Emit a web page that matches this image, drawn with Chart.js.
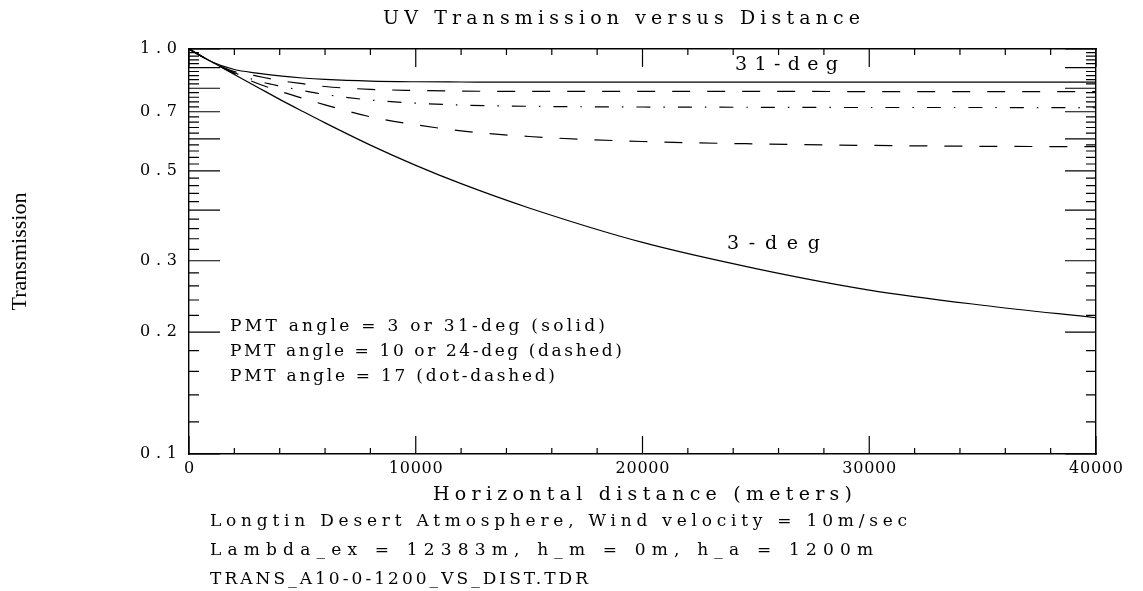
<!DOCTYPE html>
<html>
<head>
<meta charset="utf-8">
<script src="https://cdn.jsdelivr.net/npm/chart.js@4/dist/chart.umd.min.js"></script>
<style>
  html, body { margin: 0; padding: 0; background: #ffffff; }
  canvas { display: block; }
</style>
</head>
<body>
<canvas id="chart" width="1143" height="591"></canvas>
<script>
// ---------------- data ----------------
const distances = [0, 1000, 2000, 3000, 4000, 5000, 6000, 8000, 10000, 12000, 15000, 20000, 25000, 30000, 35000, 40000];
const trans3deg  = [1.000, 0.930, 0.865, 0.806, 0.751, 0.702, 0.657, 0.579, 0.516, 0.465, 0.405, 0.333, 0.287, 0.254, 0.233, 0.217];
const trans10deg = [1.000, 0.929, 0.869, 0.823, 0.787, 0.756, 0.728, 0.680, 0.650, 0.628, 0.608, 0.591, 0.583, 0.578, 0.575, 0.574];
const trans17deg = [1.000, 0.929, 0.874, 0.835, 0.810, 0.790, 0.772, 0.748, 0.735, 0.727, 0.722, 0.719, 0.718, 0.717, 0.717, 0.716];
const trans24deg = [1.000, 0.930, 0.879, 0.857, 0.836, 0.821, 0.808, 0.795, 0.790, 0.787, 0.786, 0.786, 0.786, 0.785, 0.785, 0.785];
const trans31deg = [1.000, 0.930, 0.890, 0.872, 0.858, 0.848, 0.841, 0.833, 0.830, 0.829, 0.828, 0.828, 0.828, 0.828, 0.828, 0.828];

const xTickValues = [0, 10000, 20000, 30000, 40000];
const yTickValues = [0.1, 0.2, 0.3, 0.5, 0.7, 1.0];
const yTickLabels = ['0.1', '0.2', '0.3', '0.5', '0.7', '1.0'];

const titleText = 'UV Transmission versus Distance';
const xTitleText = 'Horizontal distance (meters)';
const yTitleText = 'Transmission';
const legendLines = ['PMT angle = 3 or 31-deg (solid)', 'PMT angle = 10 or 24-deg (dashed)', 'PMT angle = 17 (dot-dashed)'];
const footerLines = ['Longtin Desert Atmosphere, Wind velocity = 10m/sec', 'Lambda_ex = 12383m, h_m = 0m, h_a = 1200m', 'TRANS_A10-0-1200_VS_DIST.TDR'];
const curveLabels = ['31-deg', '3-deg'];

// ---------------- styling / layout ----------------
const INK = '#000000';
const FONT = 'DejaVu Serif';          // plot lettering
const FONT_Y = 'Liberation Serif';    // rotated axis title
const TEXT_SIZE = 17;
const LABEL_SIZE = 19;
const TITLE_SIZE = 19;
const TICK_SIZE = 16;
const TITLE_CENTER_X = 621.5;
const TITLE_WIDTH = 477;
const XTITLE_WIDTH = 419;
const X_TICK_WIDTH = 54;   // visible width of "10000"
const Y_TICK_WIDTH = 37;   // visible width of "0.7"
const SOLID = [];
const DASHED = [18, 17];
const DOTDASH = [14, 13, 1.5, 13];

// annotation placement (pixels): left x, middle y, visible width, font size
const notePlaces = [
  { text: curveLabels[0], x: 735, y: 65, w: 103, size: LABEL_SIZE },
  { text: curveLabels[1], x: 727, y: 244, w: 93, size: LABEL_SIZE },
  { text: legendLines[0], x: 230, y: 327, w: 375, size: TEXT_SIZE },
  { text: legendLines[1], x: 230, y: 352, w: 392, size: TEXT_SIZE },
  { text: legendLines[2], x: 230, y: 377, w: 325, size: TEXT_SIZE },
  { text: footerLines[0], x: 210, y: 522, w: 697, size: TEXT_SIZE },
  { text: footerLines[1], x: 210, y: 551, w: 663, size: TEXT_SIZE },
  { text: footerLines[2], x: 210, y: 580, w: 378, size: TEXT_SIZE }
];

Chart.defaults.font.family = FONT;
Chart.defaults.color = INK;

const measurer = document.createElement('canvas').getContext('2d');
function fitSpacing(text, size, width) {
  measurer.font = size + 'px "' + FONT + '"';
  const w = measurer.measureText(text).width;
  return Math.max(0, (width - w) / Math.max(1, text.length - 1));
}

function toPoints(values) {
  return distances.map((d, i) => ({ x: d, y: values[i] }));
}

function wrapDraw(obj, name, spacing, dxFn) {
  if (!obj || obj['_wrapped_' + name]) return;
  const orig = obj[name];
  obj[name] = function () {
    const ctx = this.ctx;
    ctx.save();
    if ('letterSpacing' in ctx) ctx.letterSpacing = spacing + 'px';
    ctx.translate(dxFn ? dxFn(this) : 0, 0);
    const r = orig.apply(this, arguments);
    ctx.restore();
    return r;
  };
  obj['_wrapped_' + name] = true;
}

const spacingPlugin = {
  id: 'spacing',
  beforeDraw(chart) {
    const tls = fitSpacing(titleText, TITLE_SIZE, TITLE_WIDTH);
    const xls = fitSpacing(xTitleText, TITLE_SIZE, XTITLE_WIDTH);
    const xts = fitSpacing('10000', TICK_SIZE, X_TICK_WIDTH);
    const yts = fitSpacing('0.7', TICK_SIZE, Y_TICK_WIDTH);
    wrapDraw(chart.titleBlock, 'draw', tls, b => TITLE_CENTER_X - (b.left + b.right) / 2 + tls / 2);
    wrapDraw(chart.scales.x, 'drawTitle', xls, () => xls / 2);
    wrapDraw(chart.scales.x, 'drawLabels', xts, () => xts / 2);
    wrapDraw(chart.scales.y, 'drawLabels', yts, () => yts);
  }
};

const innerTicksPlugin = {
  id: 'innerTicks',
  afterDatasetsDraw(chart) {
    const { ctx, chartArea: a } = chart;
    const xs = chart.scales.x, ys = chart.scales.y;
    ctx.save();
    ctx.strokeStyle = INK;
    ctx.lineWidth = 1.2;
    ctx.beginPath();
    for (let k = 10; k <= 100; k += 2) {
      const py = ys.getPixelForValue(k / 100);
      const len = (k % 10 === 0) ? 31 : 10;
      ctx.moveTo(a.left, py); ctx.lineTo(a.left + len, py);
      ctx.moveTo(a.right, py); ctx.lineTo(a.right - len, py);
    }
    for (let d = 0; d <= 40000; d += 2000) {
      const px = xs.getPixelForValue(d);
      const len = (d % 10000 === 0) ? 18 : 6;
      ctx.moveTo(px, a.bottom); ctx.lineTo(px, a.bottom - len);
      ctx.moveTo(px, a.top); ctx.lineTo(px, a.top + len);
    }
    ctx.stroke();
    ctx.restore();
  }
};

const notesPlugin = {
  id: 'notes',
  afterDraw(chart) {
    const ctx = chart.ctx;
    ctx.save();
    ctx.fillStyle = INK;
    ctx.textAlign = 'left';
    ctx.textBaseline = 'middle';
    notePlaces.forEach(n => {
      ctx.font = n.size + 'px "' + FONT + '"';
      if ('letterSpacing' in ctx) ctx.letterSpacing = fitSpacing(n.text, n.size, n.w) + 'px';
      ctx.fillText(n.text, n.x, n.y);
    });
    ctx.restore();
  }
};

const lineDefaults = { borderColor: INK, borderWidth: 1.2, pointRadius: 0, fill: false, cubicInterpolationMode: 'monotone', xAxisID: 'x', yAxisID: 'y' };

new Chart(document.getElementById('chart'), {
  type: 'line',
  data: {
    datasets: [
      Object.assign({ label: '3-deg', data: toPoints(trans3deg), borderDash: SOLID }, lineDefaults),
      Object.assign({ label: '10-deg', data: toPoints(trans10deg), borderDash: DASHED }, lineDefaults),
      Object.assign({ label: '17-deg', data: toPoints(trans17deg), borderDash: DOTDASH }, lineDefaults),
      Object.assign({ label: '24-deg', data: toPoints(trans24deg), borderDash: DASHED }, lineDefaults),
      Object.assign({ label: '31-deg', data: toPoints(trans31deg), borderDash: SOLID }, lineDefaults)
    ]
  },
  options: {
    responsive: false,
    animation: false,
    devicePixelRatio: 1,
    layout: { padding: { left: 0, right: 47, top: 0, bottom: 84.2 } },
    plugins: {
      legend: { display: false },
      tooltip: { enabled: false },
      title: {
        display: true, text: titleText, color: INK,
        font: { family: FONT, size: TITLE_SIZE, weight: 'normal' },
        padding: { top: 7.6, bottom: 18.6 }
      }
    },
    scales: {
      x: {
        type: 'linear', position: 'bottom', min: 0, max: 40000,
        afterBuildTicks: s => { s.ticks = xTickValues.map(v => ({ value: v })); },
        afterFit: s => { s.height = 52.8; },
        ticks: { callback: v => String(v), color: INK, font: { family: FONT, size: TICK_SIZE }, padding: 5.5, maxRotation: 0, autoSkip: false },
        grid: { display: false, drawTicks: false },
        border: { display: true, color: INK, width: 1.4 },
        title: { display: true, text: xTitleText, color: INK, font: { family: FONT, size: TITLE_SIZE }, padding: { top: 0, bottom: 0 } }
      },
      y: {
        type: 'logarithmic', position: 'left', min: 0.1, max: 1.0,
        afterBuildTicks: s => { s.ticks = yTickValues.map(v => ({ value: v })); },
        afterFit: s => { s.width = 189; },
        ticks: {
          callback: v => { const i = yTickValues.indexOf(v); return i >= 0 ? yTickLabels[i] : Number(v).toFixed(1); },
          color: INK, font: { family: FONT, size: TICK_SIZE }, padding: 12, autoSkip: false
        },
        grid: { display: false, drawTicks: false },
        border: { display: true, color: INK, width: 1.4 },
        title: { display: true, text: yTitleText, color: INK, font: { family: FONT_Y, size: 22 }, padding: { top: 7, bottom: 0 } }
      },
      x2: {
        type: 'linear', position: 'top', min: 0, max: 40000,
        afterFit: s => { s.height = 0; },
        ticks: { display: false },
        grid: { display: false, drawTicks: false },
        border: { display: true, color: INK, width: 1.4 }
      },
      y2: {
        type: 'logarithmic', position: 'right', min: 0.1, max: 1.0,
        afterFit: s => { s.width = 0; },
        ticks: { display: false },
        grid: { display: false, drawTicks: false },
        border: { display: true, color: INK, width: 1.4 }
      }
    }
  },
  plugins: [spacingPlugin, innerTicksPlugin, notesPlugin]
});
</script>
</body>
</html>
